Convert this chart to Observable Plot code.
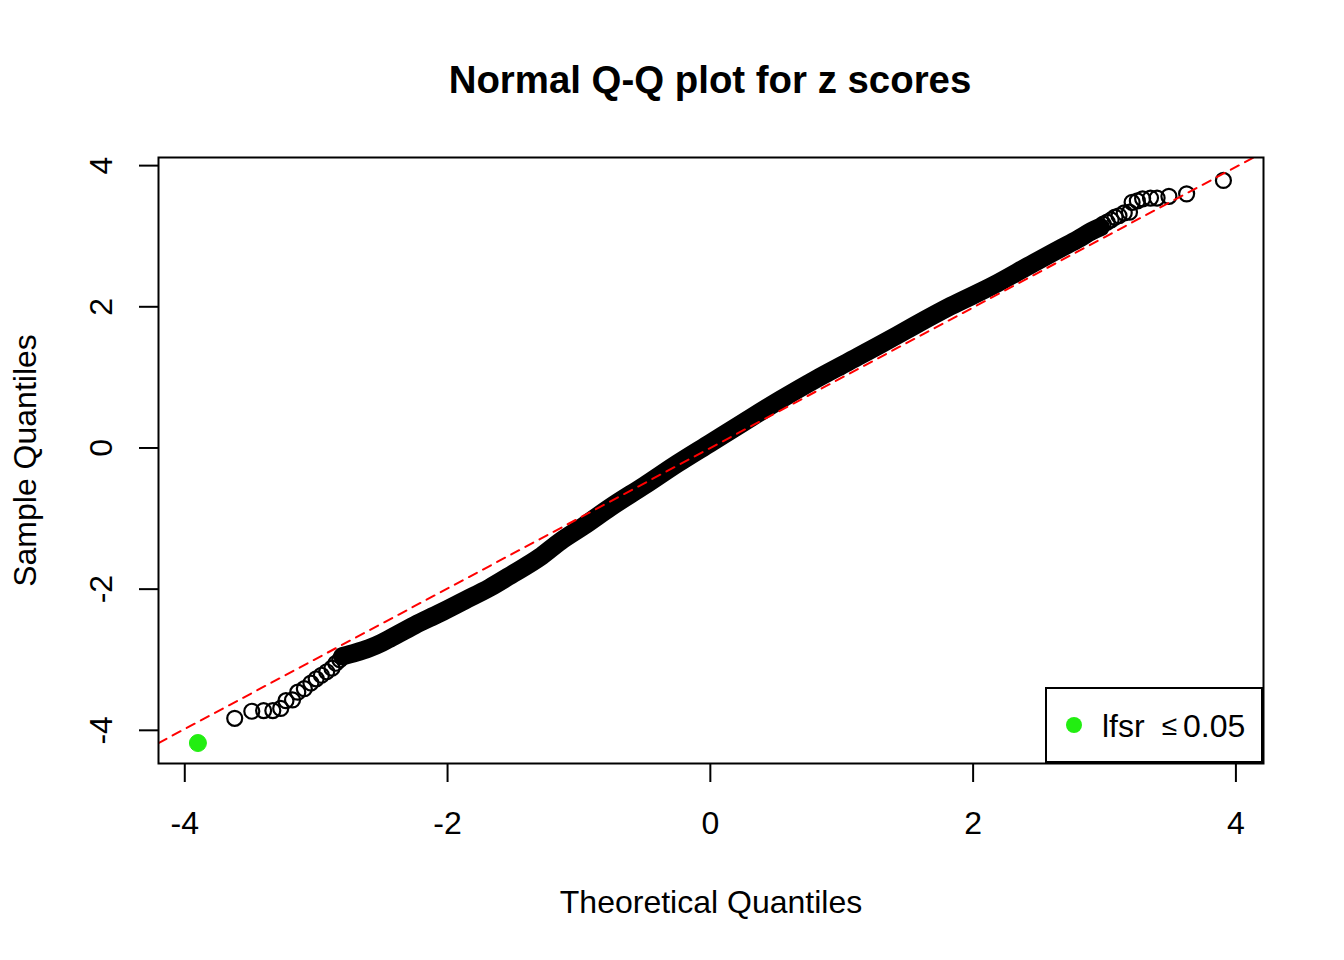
<!DOCTYPE html>
<html>
<head>
<meta charset="utf-8">
<script src="https://cdn.jsdelivr.net/npm/d3@7"></script>
<script src="https://cdn.jsdelivr.net/npm/@observablehq/plot@0.6"></script>
<style>
  html, body { margin: 0; padding: 0; background: #fff; }
  #wrap { position: relative; width: 1344px; height: 960px; overflow: hidden; font-family: "Liberation Sans", Arial, Helvetica, sans-serif; }
  #title { height: 130px; box-sizing: border-box; padding-top: 58px; padding-left: 76px; text-align: center; font-weight: bold; font-size: 38.4px; line-height: 44px; color: #000; }
  #legend { position: absolute; left: 1045px; top: 687px; width: 218px; height: 76px; box-sizing: border-box; border: 2px solid #000; background: #fff; }
  #legend .dot { position: absolute; left: 19px; top: 28px; width: 16px; height: 16px; border-radius: 50%; background: #22ee11; }
  #legend .lab { position: absolute; left: 55px; top: 21px; font-size: 32px; line-height: 32px; white-space: nowrap; color: #000; }
  #legend .le { display: inline-block; font-size: 28px; margin-left: 17px; position: relative; top: -2px; }
  #legend .num { margin-left: 6px; }
</style>
</head>
<body>
<div id="wrap">
  <div id="title">Normal Q-Q plot for z scores</div>
  <div id="chart"></div>
  <div id="legend"><span class="dot"></span><span class="lab">lfsr<span class="le">≤</span><span class="num">0.05</span></span></div>
</div>
<script>
// Tick values
const xTicks = [-4, -2, 0, 2, 4];
const yTicks = [-4, -2, 0, 2, 4];

// Dense middle of the Q-Q cloud (centre of the overlapping circles)
const bandTheoretical = [-2.80, -2.70, -2.60, -2.50, -2.43, -2.25, -2.06, -1.87, -1.68, -1.50, -1.30, -1.14, -0.96, -0.76, -0.50, -0.25, 0.00, 0.25, 0.53, 0.80, 1.04, 1.30, 1.55, 1.83, 2.16, 2.46, 2.67, 2.80, 2.90, 2.97];
const bandSample      = [-2.95, -2.90, -2.84, -2.76, -2.69, -2.51, -2.34, -2.16, -1.98, -1.78, -1.55, -1.32, -1.10, -0.84, -0.53, -0.22, 0.07, 0.36, 0.68, 0.97, 1.21, 1.47, 1.73, 2.01, 2.31, 2.62, 2.83, 2.96, 3.07, 3.13];

// Individually visible tail points
const lowTheoretical = [-3.62, -3.49, -3.40, -3.33, -3.27, -3.23, -3.18, -3.14, -3.09, -3.04, -3.00, -2.96, -2.92, -2.88, -2.85, -2.82];
const lowSample      = [-3.83, -3.73, -3.72, -3.72, -3.69, -3.58, -3.57, -3.46, -3.41, -3.33, -3.27, -3.22, -3.17, -3.12, -3.05, -3.00];
const highTheoretical = [2.99, 3.02, 3.05, 3.08, 3.11, 3.15, 3.19, 3.21, 3.25, 3.29, 3.35, 3.40, 3.49, 3.625, 3.905];
const highSample      = [3.17, 3.20, 3.23, 3.27, 3.29, 3.33, 3.34, 3.48, 3.50, 3.53, 3.54, 3.54, 3.565, 3.60, 3.79];

// Significant point (lfsr <= 0.05)
const sigTheoretical = [-3.90];
const sigSample = [-4.18];

// Reference line (qqline) end points
const refTheoretical = [-4.20, 4.21];
const refSample = [-4.18, 4.19];

const zip = (xs, ys) => xs.map((x, i) => ({x, y: ys[i]}));
const band = zip(bandTheoretical, bandSample);
const tails = zip(lowTheoretical, lowSample).concat(zip(highTheoretical, highSample));
const sig = zip(sigTheoretical, sigSample);
const ref = zip(refTheoretical, refSample);

const fmt = d => String(d);

const chart = Plot.plot({
  width: 1344,
  height: 830,
  marginTop: 27,
  marginBottom: 197,
  marginLeft: 158,
  marginRight: 81,
  x: {domain: [-4.20, 4.21], label: null},
  y: {domain: [-4.47, 4.115], label: null},
  style: {fontFamily: "'Liberation Sans', Arial, Helvetica, sans-serif", fontSize: "32px", background: "#fff", color: "#000", overflow: "visible"},
  marks: [
    Plot.line(band, {x: "x", y: "y", stroke: "#000", strokeWidth: 18.5, strokeLinecap: "round", strokeLinejoin: "round", curve: "monotone-x"}),
    Plot.dot(tails, {x: "x", y: "y", r: 7.5, stroke: "#000", strokeWidth: 2.2, fill: "none"}),
    Plot.dot(sig, {x: "x", y: "y", r: 8.5, fill: "#22ee11", stroke: "#22ee11", strokeWidth: 1}),
    Plot.line(ref, {x: "x", y: "y", stroke: "#ff0000", strokeWidth: 2, strokeDasharray: "9,7", clip: true}),
    Plot.frame({stroke: "#000", strokeWidth: 2}),
    Plot.axisX(xTicks, {tickSize: 19, tickPadding: 29, strokeWidth: 2, tickFormat: fmt, fontSize: 32, label: null}),
    Plot.axisY(yTicks, {tickSize: 19, strokeWidth: 2, tickFormat: () => "", label: null}),
    Plot.text(yTicks, {y: d => d, text: fmt, frameAnchor: "left", dx: -47, rotate: -90, textAnchor: "middle", lineAnchor: "bottom", fontSize: 32}),
    Plot.text(["Theoretical Quantiles"], {text: d => d, frameAnchor: "bottom", dy: 149, lineAnchor: "bottom", fontSize: 32}),
    Plot.text(["Sample Quantiles"], {text: d => d, frameAnchor: "left", dx: -123, rotate: -90, textAnchor: "middle", lineAnchor: "bottom", fontSize: 32})
  ]
});
document.getElementById("chart").appendChild(chart);
</script>
</body>
</html>
